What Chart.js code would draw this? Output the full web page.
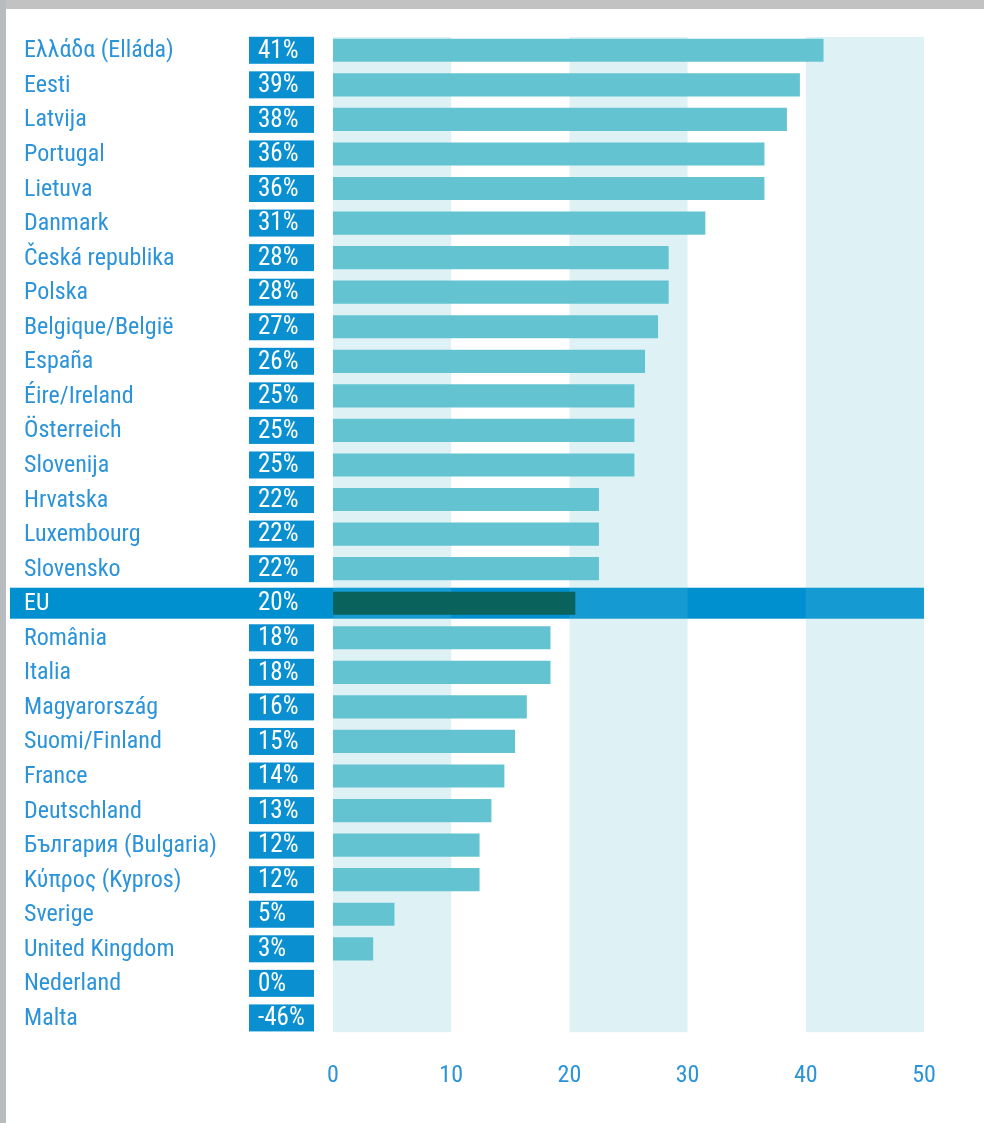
<!DOCTYPE html>
<html>
<head>
<meta charset="utf-8">
<script src="https://cdn.jsdelivr.net/npm/chart.js@4"></script>
<style>
  html, body { margin: 0; padding: 0; background: #c2c2c2; }
  #wrap { width: 984px; height: 1123px; position: relative; }
</style>
</head>
<body>
<div id="wrap"><canvas id="chart" width="984" height="1123"></canvas></div>
<script>
const countries = [
  'Ελλάδα (Elláda)', 'Eesti', 'Latvija', 'Portugal', 'Lietuva', 'Danmark',
  'Česká republika', 'Polska', 'Belgique/België', 'España', 'Éire/Ireland',
  'Österreich', 'Slovenija', 'Hrvatska', 'Luxembourg', 'Slovensko', 'EU',
  'România', 'Italia', 'Magyarország', 'Suomi/Finland', 'France', 'Deutschland',
  'България (Bulgaria)', 'Κύπρος (Kypros)', 'Sverige', 'United Kingdom',
  'Nederland', 'Malta'
]
// shown in the boxes
const shareLabels = [
  '41%', '39%', '38%', '36%', '36%', '31%', '28%', '28%', '27%', '26%', '25%',
  '25%', '25%', '22%', '22%', '22%', '20%', '18%', '18%', '16%', '15%', '14%',
  '13%', '12%', '12%', '5%', '3%', '0%', '-46%'
]
// bar lengths
const shareValues = [
  41.5, 39.5, 38.4, 36.5, 36.5, 31.5, 28.4, 28.4, 27.5, 26.4, 25.5,
  25.5, 25.5, 22.5, 22.5, 22.5, 20.5, 18.4, 18.4, 16.4, 15.4, 14.5,
  13.4, 12.4, 12.4, 5.2, 3.4, 0, -46
]
const xTicks = [0, 10, 20, 30, 40, 50]
const shadedRanges = [[0, 10], [20, 30], [40, 50]]

const FONT = "'Liberation Sans Narrow', 'Roboto Condensed', 'Liberation Sans', sans-serif"
const BLUE = '#2b93d9'
const BOX = '#0a90d0'
const EU = 'EU'

const paperPlugin = {
  id: 'paper',
  beforeDraw (chart) {
    const { ctx, width, height } = chart
    ctx.save()
    ctx.fillStyle = '#c3c2c2'
    ctx.fillRect(0, 0, width, height)
    ctx.fillStyle = '#b8bcc0'
    ctx.fillRect(0, 0, 6, height)
    ctx.fillStyle = '#ffffff'
    ctx.fillRect(6, 9, width - 6, height - 9)
    ctx.restore()
  }
}

const bandsPlugin = {
  id: 'bands',
  beforeDatasetsDraw (chart) {
    const { ctx, chartArea, scales: { x, y } } = chart
    ctx.save()
    // EU highlight row
    const euIdx = countries.indexOf(EU)
    const cy = y.getPixelForValue(euIdx)
    ctx.fillStyle = '#0090d0'
    ctx.fillRect(10, cy - 15.5, x.getPixelForValue(50) - 10, 31)
    // shaded columns
    ctx.fillStyle = 'rgba(101, 192, 212, 0.21)'
    shadedRanges.forEach(([a, b]) => {
      const x0 = x.getPixelForValue(a)
      const x1 = x.getPixelForValue(b)
      ctx.fillRect(x0, chartArea.top + 4, x1 - x0, chartArea.bottom - chartArea.top - 7)
    })
    ctx.restore()
  }
}

const rowLabelsPlugin = {
  id: 'rowLabels',
  afterDatasetsDraw (chart) {
    const { ctx, scales: { y } } = chart
    ctx.save()
    ctx.textBaseline = 'middle'
    ctx.textAlign = 'left'
    countries.forEach((name, i) => {
      const cy = y.getPixelForValue(i)
      const isEU = name === EU
      if (!isEU) {
        ctx.fillStyle = BOX
        ctx.fillRect(249, cy - 13.5, 65, 27)
      }
      ctx.font = `24px ${FONT}`
      ctx.fillStyle = isEU ? '#ffffff' : BLUE
      ctx.fillText(name, 24, cy + 1)
      ctx.font = `25px ${FONT}`
      ctx.fillStyle = '#ffffff'
      ctx.fillText(shareLabels[i], 258, cy + 1)
    })
    ctx.restore()
  }
}

const ctx = document.getElementById('chart').getContext('2d')

new Chart(ctx, {
  type: 'bar',
  data: {
    labels: countries,
    datasets: [{
      data: shareValues,
      backgroundColor: countries.map(c => c === EU ? '#0a625d' : '#63c3d1'),
      barPercentage: 0.67,
      categoryPercentage: 1
    }]
  },
  options: {
    indexAxis: 'y',
    responsive: false,
    animation: false,
    layout: {
      padding: { left: 333, right: 60, top: 33, bottom: 15 }
    },
    plugins: {
      legend: { display: false },
      tooltip: { enabled: false }
    },
    scales: {
      x: {
        min: 0,
        max: 50,
        afterBuildTicks: (axis) => { axis.ticks = xTicks.map(v => ({ value: v })) },
        grid: { display: false },
        border: { display: false },
        ticks: {
          color: BLUE,
          padding: 18,
          font: { family: FONT, size: 24 }
        }
      },
      y: {
        display: false
      }
    }
  },
  plugins: [paperPlugin, bandsPlugin, rowLabelsPlugin]
})
</script>
</body>
</html>
